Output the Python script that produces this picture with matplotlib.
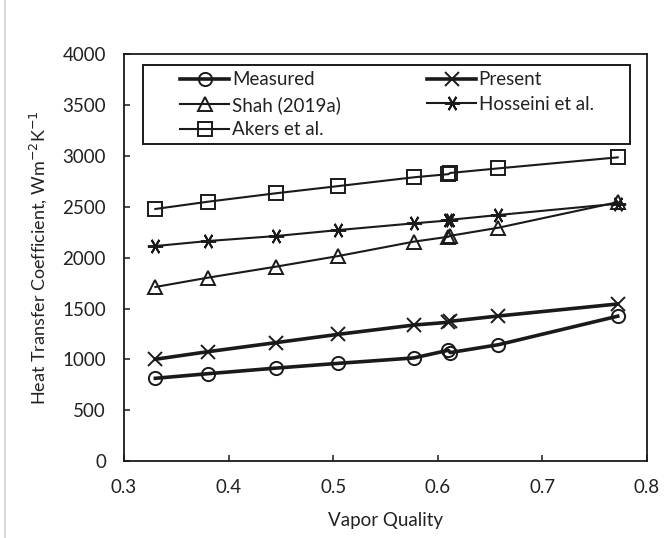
import matplotlib.pyplot as plt
from matplotlib.lines import Line2D
from matplotlib.patches import Rectangle

# Vapor quality (x) and heat transfer coefficient values
quality = [0.330, 0.380, 0.445, 0.505, 0.577, 0.610, 0.612, 0.658, 0.772]

measured = [815, 860, 915, 962, 1015, 1090, 1068, 1145, 1425]
present = [1002, 1076, 1165, 1247, 1338, 1365, 1375, 1427, 1545]
shah = [1712, 1803, 1911, 2016, 2157, 2205, 2215, 2294, 2545]
hosseini = [2114, 2163, 2212, 2271, 2337, 2365, 2372, 2419, 2530]
akers = [2478, 2549, 2632, 2703, 2789, 2820, 2832, 2877, 2985]

x_ticks = [0.3, 0.4, 0.5, 0.6, 0.7, 0.8]
y_ticks = [0, 500, 1000, 1500, 2000, 2500, 3000, 3500, 4000]

plt.rcParams["font.family"] = ["Lato", "DejaVu Sans"]
fs = 13.5
txt = "#222222"

fig = plt.figure(figsize=(6.67, 5.38), dpi=100)
ax = fig.add_axes([0.1859, 0.1426, 0.7841, 0.757])

c = "#1a1a1a"
common = dict(color=c, markerfacecolor="none", markeredgecolor=c, markeredgewidth=1.4)

l_meas, = ax.plot(quality, measured, marker="o", markersize=9.5, lw=2.6, label="Measured", **common)
l_pres, = ax.plot(quality, present, marker="x", markersize=9.5, lw=2.6, label="Present", **common)
l_shah, = ax.plot(quality, shah, marker="^", markersize=9.5, lw=1.5, label="Shah (2019a)", **common)
l_hoss, = ax.plot(quality, hosseini, marker=(6, 2, 90), markersize=11, lw=1.5, label="Hosseini et al.", **common)
l_akers, = ax.plot(quality, akers, marker="s", markersize=9.5, lw=1.5, label="Akers et al.", **common)

ax.set_xlim(0.3, 0.8)
ax.set_ylim(0, 4000)
ax.set_xticks(x_ticks)
ax.set_xticklabels([f"{v:.1f}" for v in x_ticks])
ax.set_yticks(y_ticks)

for s in ax.spines.values():
    s.set_linewidth(1.3)
    s.set_color(c)

ax.tick_params(axis="both", direction="in", length=4, width=1.1, color=c,
               labelsize=fs, labelcolor=txt, pad=13)

ax.set_xlabel("Vapor Quality", fontsize=fs, color=txt)
ax.set_ylabel("Heat Transfer Coefficient, Wm$^{-2}$K$^{-1}$", fontsize=13, color=txt)
ax.xaxis.set_label_coords(0.5, -0.125)
ax.yaxis.set_label_coords(-0.143, 0.5)

leg = ax.legend(handles=[l_meas, l_shah, l_akers, l_pres, l_hoss], ncol=2,
                loc="upper left", bbox_to_anchor=(0.108, 0.958),
                fontsize=fs, frameon=False, handlelength=2.6, handletextpad=0.15,
                borderpad=0, labelspacing=0.41, borderaxespad=0, columnspacing=4.6)
for t in leg.get_texts():
    t.set_color(txt)

# legend frame, drawn separately so the entries sit indented like the original
ax.add_patch(Rectangle((0.0363, 0.7796), 0.9312, 0.1941, transform=ax.transAxes,
                       fill=False, edgecolor=c, lw=1.4, zorder=5))

# light grey outer chart border on the left edge
fig.add_artist(Line2D([5 / 667, 5 / 667], [0, 1], color="#d9d9d9", lw=1.5))

fig.savefig("out.png", dpi=100)
